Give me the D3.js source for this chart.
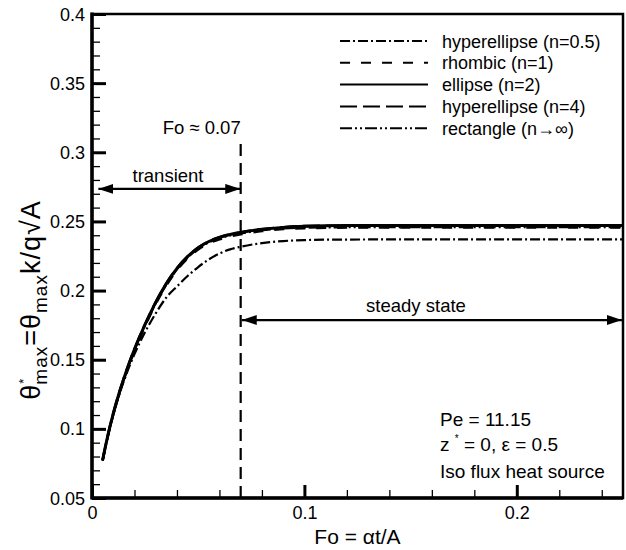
<!DOCTYPE html>
<html>
<head>
<meta charset="utf-8">
<script src="https://cdn.jsdelivr.net/npm/d3@7"></script>
<style>
  body { margin: 0; background: #fff; }
  svg { font-family: "Liberation Sans", Arial, sans-serif; }
  .tick text { font-size: 18px; fill: #000; }
</style>
</head>
<body>
<div class="panel"></div>
<script>
// Fourier number samples (shared by all curves)
const fo = [0.005, 0.0075, 0.01, 0.0125, 0.015, 0.0175, 0.02, 0.025, 0.03, 0.035,
            0.04, 0.045, 0.05, 0.055, 0.06, 0.065, 0.07, 0.08, 0.09, 0.1,
            0.12, 0.15, 0.2, 0.25];

const hyper05 = [0.0770, 0.0948, 0.1100, 0.1230, 0.1345, 0.1448, 0.1540, 0.1700, 0.1835, 0.1950,
                 0.2030, 0.2105, 0.2170, 0.2225, 0.2268, 0.2298, 0.2317, 0.2343, 0.2358, 0.2365,
                 0.2369, 0.2370, 0.2370, 0.2370];
const rhombic = [0.0770, 0.0950, 0.1103, 0.1237, 0.1356, 0.1465, 0.1564, 0.1743, 0.1902, 0.2037,
                 0.2147, 0.2232, 0.2297, 0.2341, 0.2371, 0.2391, 0.2406, 0.2430, 0.2444, 0.2451,
                 0.2455, 0.2455, 0.2455, 0.2455];
const ellipse = [0.0775, 0.0955, 0.1110, 0.1245, 0.1365, 0.1475, 0.1575, 0.1755, 0.1915, 0.2050,
                 0.2160, 0.2245, 0.2310, 0.2355, 0.2385, 0.2405, 0.2420, 0.2443, 0.2457, 0.2465,
                 0.2470, 0.2470, 0.2470, 0.2470];
const hyper4 = [0.0775, 0.0956, 0.1112, 0.1247, 0.1367, 0.1477, 0.1577, 0.1757, 0.1917, 0.2052,
                0.2162, 0.2247, 0.2311, 0.2356, 0.2386, 0.2406, 0.2421, 0.2444, 0.2458, 0.2466,
                0.2469, 0.2469, 0.2469, 0.2469];
const rectangle = [0.0772, 0.0952, 0.1106, 0.1240, 0.1360, 0.1469, 0.1569, 0.1748, 0.1908, 0.2043,
                   0.2153, 0.2238, 0.2303, 0.2348, 0.2378, 0.2398, 0.2413, 0.2436, 0.2449, 0.2455,
                   0.2458, 0.2458, 0.2458, 0.2458];

const seriesNames = ["hyperellipse (n=0.5)", "rhombic (n=1)", "ellipse (n=2)",
                     "hyperellipse (n=4)", "rectangle (n\u2192\u221e)"];
const seriesValues = [hyper05, rhombic, ellipse, hyper4, rectangle];

const xTicks = [0, 0.1, 0.2];
const xTickLabels = ["0", "0.1", "0.2"];
const xMinor = [0.02, 0.04, 0.06, 0.08, 0.12, 0.14, 0.16, 0.18, 0.22, 0.24];
const yTicks = [0.05, 0.1, 0.15, 0.2, 0.25, 0.3, 0.35, 0.4];
const yTickLabels = ["0.05", "0.1", "0.15", "0.2", "0.25", "0.3", "0.35", "0.4"];
const yMinor = d3.range(6, 40).map(d => d / 100).filter(d => Math.round(d * 100) % 5 !== 0);

const foSteady = 0.07;

const width = 626;
const height = 550;
const mLeft = 92, mRight = 623, mTop = 14, mBottom = 498;

const dashFor = {
  "hyperellipse (n=0.5)": "10,3,2,3",
  "rhombic (n=1)": "10,11",
  "ellipse (n=2)": null,
  "hyperellipse (n=4)": "17,6",
  "rectangle (n\u2192\u221e)": "12,3,2,3,2,3"
};
const widthFor = {
  "hyperellipse (n=0.5)": 2.2,
  "rhombic (n=1)": 2.4,
  "ellipse (n=2)": 3,
  "hyperellipse (n=4)": 2.6,
  "rectangle (n\u2192\u221e)": 2.2
};

const svg = d3.select(".panel")
    .append("svg")
    .attr("width", width)
    .attr("height", height);

const x = d3.scaleLinear().domain([0, 0.25]).range([mLeft, mRight]);
const y = d3.scaleLinear().domain([0.05, 0.4]).range([mBottom, mTop]);

// curves
const line = d3.line()
    .x(d => x(d[0]))
    .y(d => y(d[1]))
    .curve(d3.curveMonotoneX);

svg.append("g")
    .selectAll("path")
    .data(seriesNames)
    .enter()
    .append("path")
    .attr("d", (d, i) => line(fo.map((f, j) => [f, seriesValues[i][j]])))
    .attr("fill", "none")
    .attr("stroke", "#000")
    .attr("stroke-width", d => widthFor[d])
    .attr("stroke-dasharray", d => dashFor[d]);

// axes: ticks point inward
const yAxis = d3.axisLeft(y).tickValues(yTicks)
    .tickFormat((d, i) => yTickLabels[i]).tickSize(-14).tickPadding(7);
const yAxisMinor = d3.axisLeft(y).tickValues(yMinor).tickFormat("").tickSize(-8);
const xAxis = d3.axisBottom(x).tickValues(xTicks)
    .tickFormat((d, i) => xTickLabels[i]).tickSize(-13).tickPadding(8);
const xAxisMinor = d3.axisBottom(x).tickValues(xMinor).tickFormat("").tickSize(-8);

const gy = svg.append("g").attr("transform", `translate(${mLeft},0)`).call(yAxis);
gy.selectAll(".tick line").attr("stroke-width", 3);
const gym = svg.append("g").attr("transform", `translate(${mLeft},0)`).call(yAxisMinor);
gym.selectAll(".tick line").attr("stroke-width", 1.3);
const gx = svg.append("g").attr("transform", `translate(0,${mBottom})`).call(xAxis);
gx.selectAll(".tick line").attr("stroke-width", 3);
const gxm = svg.append("g").attr("transform", `translate(0,${mBottom})`).call(xAxisMinor);
gxm.selectAll(".tick line").attr("stroke-width", 1.3);
svg.selectAll(".domain").remove();
gy.selectAll("text").attr("dy", "0.34em");

// frame
svg.append("rect")
    .attr("x", mLeft).attr("y", mTop)
    .attr("width", mRight - mLeft).attr("height", mBottom - mTop)
    .attr("fill", "none").attr("stroke", "#000").attr("stroke-width", 2.5);
svg.append("line").attr("x1", mLeft).attr("x2", mLeft).attr("y1", mTop - 1.5).attr("y2", mBottom + 1.5)
    .attr("stroke", "#000").attr("stroke-width", 3.5);
svg.append("line").attr("x1", mLeft).attr("x2", mRight).attr("y1", mBottom).attr("y2", mBottom)
    .attr("stroke", "#000").attr("stroke-width", 3.5);

// Fo ~ 0.07 line
svg.append("line")
    .attr("x1", x(foSteady)).attr("x2", x(foSteady))
    .attr("y1", y(0.306)).attr("y2", y(0.05))
    .attr("stroke", "#000").attr("stroke-width", 2.2)
    .attr("stroke-dasharray", "12,7");

svg.append("text")
    .attr("x", x(foSteady)).attr("y", 134)
    .attr("text-anchor", "end")
    .attr("font-size", 18.5)
    .text("Fo \u2248 0.07");

// arrows
const defs = svg.append("defs");
defs.append("marker")
    .attr("id", "head")
    .attr("markerUnits", "userSpaceOnUse")
    .attr("viewBox", "0 -5 15 10")
    .attr("refX", 15).attr("refY", 0)
    .attr("markerWidth", 15).attr("markerHeight", 10)
    .attr("orient", "auto-start-reverse")
    .append("path")
    .attr("d", "M0,-5L15,0L0,5Z")
    .attr("fill", "#000");

function arrow(f0, f1, v) {
  svg.append("line")
      .attr("x1", x(f0)).attr("x2", x(f1))
      .attr("y1", y(v)).attr("y2", y(v))
      .attr("stroke", "#000").attr("stroke-width", 2.2)
      .attr("marker-start", "url(#head)")
      .attr("marker-end", "url(#head)");
}
arrow(0.003, 0.0698, 0.2735);
arrow(0.0705, 0.2495, 0.1787);

svg.append("text").attr("x", 168).attr("y", 182)
    .attr("text-anchor", "middle").attr("font-size", 18.5).text("transient");
svg.append("text").attr("x", 416).attr("y", 312)
    .attr("text-anchor", "middle").attr("font-size", 18.5).text("steady state");

// legend
const legend = svg.append("g");
const rows = legend.selectAll("g")
    .data(seriesNames)
    .enter()
    .append("g")
    .attr("transform", (d, i) => `translate(0, ${41 + i * 21.8})`);
rows.append("line")
    .attr("x1", 340).attr("x2", 428)
    .attr("stroke", "#000")
    .attr("stroke-width", 2)
    .attr("stroke-dasharray", d => dashFor[d]);
rows.append("text")
    .attr("x", 442).attr("y", 6.5)
    .attr("font-size", 18)
    .text(d => d);

// parameter notes
const notes = svg.append("g").attr("font-size", 19);
notes.append("text").attr("x", 440).attr("y", 426).text("Pe = 11.15");
const z = notes.append("text").attr("x", 440).attr("y", 451);
z.append("tspan").text("z ");
z.append("tspan").attr("font-size", 10).attr("dy", -9).text("*");
z.append("tspan").attr("dy", 9).text(" = 0, \u03b5 = 0.5");
notes.append("text").attr("x", 440).attr("y", 478).text("Iso flux heat source");

// axis titles
svg.append("text")
    .attr("x", (mLeft + mRight) / 2).attr("y", 544)
    .attr("text-anchor", "middle")
    .attr("font-size", 21)
    .text("Fo = \u03b1t/A");

const yt = svg.append("text")
    .attr("transform", "translate(40,300) rotate(-90)")
    .attr("text-anchor", "middle")
    .attr("letter-spacing", 1)
    .attr("font-size", 27);
yt.append("tspan").text("\u03b8");
yt.append("tspan").attr("font-size", 13).attr("dy", -12).text("*");
yt.append("tspan").attr("font-size", 19).attr("dx", -7).attr("dy", 19).text("max");
yt.append("tspan").attr("dy", -7).text("=\u03b8");
yt.append("tspan").attr("font-size", 19).attr("dy", 7).text("max");
yt.append("tspan").attr("dy", -7).text("k/q\u221aA");
</script>
</body>
</html>
